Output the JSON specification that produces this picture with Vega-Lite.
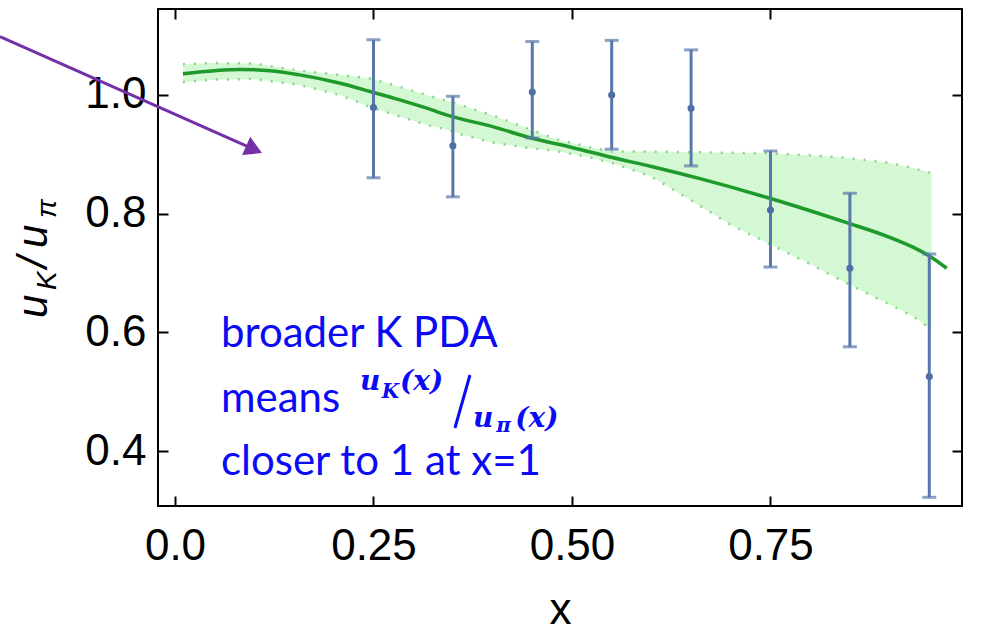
{
  "$schema": "https://vega.github.io/schema/vega-lite/v6.json",
  "width": 804,
  "height": 497,
  "autosize": {"type": "none"},
  "padding": {"left": 158, "top": 9, "right": 22, "bottom": 127},
  "background": "white",
  "config": {
    "view": {"stroke": "black", "strokeWidth": 2},
    "axis": {
      "labelFont": "Liberation Sans",
      "labelFontSize": 44,
      "labelColor": "black",
      "tickColor": "black",
      "tickWidth": 2,
      "titleFont": "Liberation Sans",
      "titleFontSize": 44,
      "titleFontWeight": "normal",
      "titleColor": "black",
      "domain": false,
      "grid": false
    }
  },
  "datasets": {
    "band": [
      {"x": 0.01, "lo": 1.021, "hi": 1.051},
      {"x": 0.05, "lo": 1.025, "hi": 1.053},
      {"x": 0.1, "lo": 1.026, "hi": 1.052},
      {"x": 0.157, "lo": 1.016, "hi": 1.04},
      {"x": 0.208, "lo": 0.999, "hi": 1.033},
      {"x": 0.246, "lo": 0.979, "hi": 1.027},
      {"x": 0.283, "lo": 0.963, "hi": 1.013},
      {"x": 0.317, "lo": 0.949, "hi": 0.999},
      {"x": 0.346, "lo": 0.94, "hi": 0.988},
      {"x": 0.36, "lo": 0.933, "hi": 0.982},
      {"x": 0.4, "lo": 0.919, "hi": 0.965},
      {"x": 0.44, "lo": 0.911, "hi": 0.945},
      {"x": 0.48, "lo": 0.905, "hi": 0.925},
      {"x": 0.52, "lo": 0.895, "hi": 0.912},
      {"x": 0.55, "lo": 0.885, "hi": 0.904},
      {"x": 0.6, "lo": 0.862, "hi": 0.904},
      {"x": 0.65, "lo": 0.822, "hi": 0.903},
      {"x": 0.7, "lo": 0.781, "hi": 0.902},
      {"x": 0.75, "lo": 0.748, "hi": 0.901},
      {"x": 0.8, "lo": 0.715, "hi": 0.898},
      {"x": 0.85, "lo": 0.68, "hi": 0.893},
      {"x": 0.9, "lo": 0.647, "hi": 0.885},
      {"x": 0.93, "lo": 0.627, "hi": 0.876},
      {"x": 0.953, "lo": 0.605, "hi": 0.868}
    ],
    "curve": [
      {"x": 0.01, "y": 1.035},
      {"x": 0.05, "y": 1.04},
      {"x": 0.082, "y": 1.042},
      {"x": 0.12, "y": 1.04},
      {"x": 0.157, "y": 1.033},
      {"x": 0.208, "y": 1.019},
      {"x": 0.246, "y": 1.005},
      {"x": 0.283, "y": 0.991},
      {"x": 0.317, "y": 0.977},
      {"x": 0.346, "y": 0.964},
      {"x": 0.4, "y": 0.946},
      {"x": 0.451, "y": 0.926},
      {"x": 0.5, "y": 0.911},
      {"x": 0.551, "y": 0.894},
      {"x": 0.6, "y": 0.879},
      {"x": 0.66, "y": 0.859},
      {"x": 0.748, "y": 0.826},
      {"x": 0.845, "y": 0.785},
      {"x": 0.9, "y": 0.76},
      {"x": 0.93, "y": 0.743},
      {"x": 0.952, "y": 0.727},
      {"x": 0.972, "y": 0.708}
    ],
    "err": [
      {"x": 0.25, "y": 0.978, "lo": 0.86, "hi": 1.092},
      {"x": 0.35, "y": 0.914, "lo": 0.828, "hi": 0.997},
      {"x": 0.45, "y": 1.004, "lo": 0.927, "hi": 1.089},
      {"x": 0.55, "y": 0.999, "lo": 0.908, "hi": 1.091},
      {"x": 0.65, "y": 0.977, "lo": 0.88, "hi": 1.075},
      {"x": 0.75, "y": 0.806, "lo": 0.71, "hi": 0.905},
      {"x": 0.85, "y": 0.708, "lo": 0.576, "hi": 0.834},
      {"x": 0.95, "y": 0.526, "lo": 0.323, "hi": 0.732}
    ],
    "arrow": [
      {"x": -0.2204, "y": 1.0971, "x2": 0.0996, "y2": 0.9076}
    ],
    "note": [
      {"x": 0.0579, "y": 0.5756, "text": "broader K PDA"},
      {"x": 0.0579, "y": 0.4669, "text": "means"},
      {"x": 0.0579, "y": 0.3605, "text": "closer to 1 at x=1"}
    ],
    "mathMain": [
      {"x": 0.233, "y": 0.5034, "text": "u"},
      {"x": 0.2834, "y": 0.5034, "text": "(x)"},
      {"x": 0.3753, "y": 0.4412, "text": "u"},
      {"x": 0.4285, "y": 0.4412, "text": "(x)"}
    ],
    "mathSub": [
      {"x": 0.2604, "y": 0.4899, "text": "K"},
      {"x": 0.4045, "y": 0.4328, "text": "π"}
    ],
    "slash": [
      {"x": 0.3526, "y": 0.4395, "x2": 0.3715, "y2": 0.5286}
    ],
    "ytitleMain": [
      {"x": -0.1612, "y": 0.6244, "text": "u"},
      {"x": -0.1612, "y": 0.7084, "text": "/"},
      {"x": -0.1612, "y": 0.742, "text": "u"}
    ],
    "ytitleSub": [
      {"x": -0.1499, "y": 0.6714, "text": "K"},
      {"x": -0.1499, "y": 0.7924, "text": "π"}
    ]
  },
  "resolve": {"axis": {"x": "independent", "y": "independent"}},
  "encoding": {
    "x": {"field": "x", "type": "quantitative", "scale": {"domain": [-0.0214, 0.9912], "nice": false, "zero": false}, "axis": null}
  },
  "layer": [
    {
      "data": {"name": "band"},
      "mark": {"type": "area", "color": "#d4f7d4"},
      "encoding": {
        "x": {"field": "x", "type": "quantitative", "scale": {"domain": [-0.0214, 0.9912], "nice": false, "zero": false},
          "axis": {"orient": "bottom", "values": [0, 0.25, 0.5, 0.75], "labelExpr": "datum.value == 0 ? '0.0' : format(datum.value, '.2f')", "tickSize": -10, "labelPadding": 28, "title": "x", "titleY": 126, "titleBaseline": "bottom"}},
        "y": {"field": "lo", "type": "quantitative", "scale": {"domain": [0.3084, 1.1437], "nice": false, "zero": false},
          "axis": {"orient": "left", "values": [0.4, 0.6, 0.8, 1.0], "format": ".1f", "tickSize": -10, "labelPadding": 22, "title": null}},
        "y2": {"field": "hi"}
      }
    },
    {
      "data": {"name": "band"},
      "mark": {"type": "line", "color": "#86d686", "strokeWidth": 2.5, "strokeDash": [2, 9]},
      "encoding": {
        "y": {"field": "hi", "type": "quantitative", "scale": {"domain": [0.3084, 1.1437], "nice": false, "zero": false}, "axis": null}
      }
    },
    {
      "data": {"name": "band"},
      "mark": {"type": "line", "color": "#86d686", "strokeWidth": 2.5, "strokeDash": [2, 9]},
      "encoding": {
        "y": {"field": "lo", "type": "quantitative", "scale": {"domain": [0.3084, 1.1437], "nice": false, "zero": false}, "axis": null}
      }
    },
    {
      "data": {"name": "curve"},
      "mark": {"type": "line", "color": "#1e9a2a", "strokeWidth": 3.5, "interpolate": "monotone"},
      "encoding": {
        "x": {"field": "x", "type": "quantitative", "scale": {"domain": [-0.0214, 0.9912], "nice": false, "zero": false},
          "axis": {"orient": "top", "values": [0, 0.25, 0.5, 0.75], "labels": false, "tickSize": -10, "title": null}},
        "y": {"field": "y", "type": "quantitative", "scale": {"domain": [0.3084, 1.1437], "nice": false, "zero": false},
          "axis": {"orient": "right", "values": [0.4, 0.6, 0.8, 1.0], "labels": false, "tickSize": -10, "title": null}}
      }
    },
    {
      "data": {"name": "err"},
      "mark": {"type": "rule", "color": "#5878ac", "strokeWidth": 3},
      "encoding": {
        "y": {"field": "lo", "type": "quantitative", "scale": {"domain": [0.3084, 1.1437], "nice": false, "zero": false}, "axis": null},
        "y2": {"field": "hi"}
      }
    },
    {
      "data": {"name": "err"},
      "mark": {"type": "tick", "orient": "horizontal", "color": "#5878ac", "size": 14, "thickness": 3},
      "encoding": {
        "y": {"field": "lo", "type": "quantitative", "scale": {"domain": [0.3084, 1.1437], "nice": false, "zero": false}, "axis": null}
      }
    },
    {
      "data": {"name": "err"},
      "mark": {"type": "tick", "orient": "horizontal", "color": "#5878ac", "size": 14, "thickness": 3},
      "encoding": {
        "y": {"field": "hi", "type": "quantitative", "scale": {"domain": [0.3084, 1.1437], "nice": false, "zero": false}, "axis": null}
      }
    },
    {
      "data": {"name": "err"},
      "mark": {"type": "point", "filled": true, "color": "#4e6ea4", "size": 50, "opacity": 1},
      "encoding": {
        "y": {"field": "y", "type": "quantitative", "scale": {"domain": [0.3084, 1.1437], "nice": false, "zero": false}, "axis": null}
      }
    },
    {
      "data": {"name": "arrow"},
      "mark": {"type": "rule", "color": "#7330a8", "strokeWidth": 3, "clip": false},
      "encoding": {
        "y": {"field": "y", "type": "quantitative", "scale": {"domain": [0.3084, 1.1437], "nice": false, "zero": false}, "axis": null},
        "x2": {"field": "x2"},
        "y2": {"field": "y2"}
      }
    },
    {
      "data": {"name": "arrow"},
      "mark": {"type": "point", "shape": "triangle-right", "angle": 24, "filled": true, "color": "#7330a8", "size": 400, "opacity": 1},
      "encoding": {
        "x": {"field": "x2", "type": "quantitative", "scale": {"domain": [-0.0214, 0.9912], "nice": false, "zero": false}, "axis": null},
        "y": {"field": "y2", "type": "quantitative", "scale": {"domain": [0.3084, 1.1437], "nice": false, "zero": false}, "axis": null}
      }
    },
    {
      "data": {"name": "note"},
      "mark": {"type": "text", "font": "Lato", "fontSize": 42, "color": "#0a0af5", "align": "left", "baseline": "alphabetic"},
      "encoding": {
        "y": {"field": "y", "type": "quantitative", "scale": {"domain": [0.3084, 1.1437], "nice": false, "zero": false}, "axis": null},
        "text": {"field": "text"}
      }
    },
    {
      "data": {"name": "mathMain"},
      "mark": {"type": "text", "font": "DejaVu Serif", "fontStyle": "italic", "fontWeight": "bold", "fontSize": 28, "color": "#0a0af5", "align": "left", "baseline": "alphabetic"},
      "encoding": {
        "y": {"field": "y", "type": "quantitative", "scale": {"domain": [0.3084, 1.1437], "nice": false, "zero": false}, "axis": null},
        "text": {"field": "text"}
      }
    },
    {
      "data": {"name": "mathSub"},
      "mark": {"type": "text", "font": "DejaVu Serif", "fontStyle": "italic", "fontWeight": "bold", "fontSize": 20, "color": "#0a0af5", "align": "left", "baseline": "alphabetic"},
      "encoding": {
        "y": {"field": "y", "type": "quantitative", "scale": {"domain": [0.3084, 1.1437], "nice": false, "zero": false}, "axis": null},
        "text": {"field": "text"}
      }
    },
    {
      "data": {"name": "slash"},
      "mark": {"type": "rule", "color": "#0a0af5", "strokeWidth": 3},
      "encoding": {
        "y": {"field": "y", "type": "quantitative", "scale": {"domain": [0.3084, 1.1437], "nice": false, "zero": false}, "axis": null},
        "x2": {"field": "x2"},
        "y2": {"field": "y2"}
      }
    },
    {
      "data": {"name": "ytitleMain"},
      "mark": {"type": "text", "font": "Liberation Sans", "fontStyle": "italic", "fontSize": 42, "color": "black", "align": "left", "baseline": "alphabetic", "angle": 270, "clip": false},
      "encoding": {
        "y": {"field": "y", "type": "quantitative", "scale": {"domain": [0.3084, 1.1437], "nice": false, "zero": false}, "axis": null},
        "text": {"field": "text"}
      }
    },
    {
      "data": {"name": "ytitleSub"},
      "mark": {"type": "text", "font": "Liberation Sans", "fontStyle": "italic", "fontSize": 28, "color": "black", "align": "left", "baseline": "alphabetic", "angle": 270, "clip": false},
      "encoding": {
        "y": {"field": "y", "type": "quantitative", "scale": {"domain": [0.3084, 1.1437], "nice": false, "zero": false}, "axis": null},
        "text": {"field": "text"}
      }
    }
  ]
}
